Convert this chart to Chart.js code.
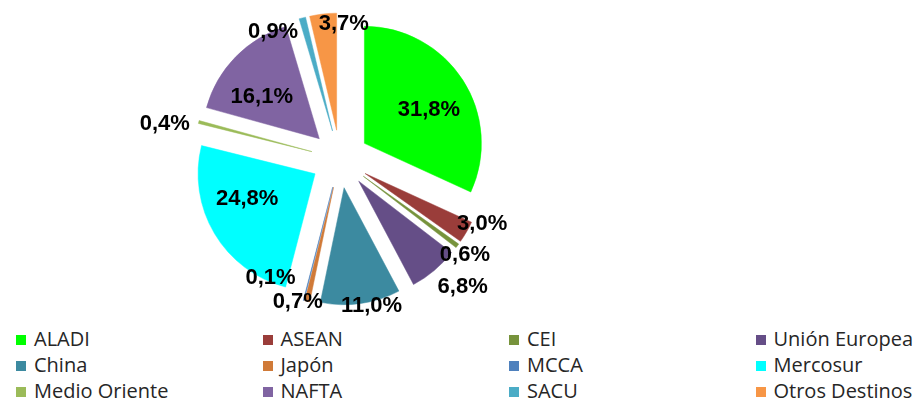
<!DOCTYPE html>
<html>
<head>
<meta charset="utf-8">
<script src="https://cdn.jsdelivr.net/npm/chart.js@4.4.1/dist/chart.umd.min.js"></script>
<style>
    html, body { margin: 0; padding: 0; background: #fff; }
    #wrap { position: relative; width: 913px; height: 403px; overflow: hidden; }
    #chartBox { position: absolute; left: 0; top: 0; width: 913px; height: 318px; }
    #leyenda {
        position: absolute; left: 16px; top: 326px;
        display: grid; grid-template-columns: repeat(4, 246.5px);
        font-family: "Open Sans", sans-serif; font-size: 20px; color: #262626;
    }
    #leyenda div { height: 26px; line-height: 26px; white-space: nowrap; }
    #leyenda span.caja {
        display: inline-block; width: 10px; height: 10px; margin-right: 8px;
        vertical-align: 1px;
    }
</style>
</head>
<body>
<div id="wrap">
    <div id="chartBox"><canvas id="graficoDestinos"></canvas></div>
    <div id="leyenda"></div>
</div>
<script>
// Destinos de exportacion (participacion %)
var destinos = ['ALADI', 'ASEAN', 'CEI', 'Unión Europea', 'China', 'Japón', 'MCCA',
    'Mercosur', 'Medio Oriente', 'NAFTA', 'SACU', 'Otros Destinos'];
var participacion = [31.8, 3.0, 0.6, 6.8, 11.0, 0.7, 0.1, 24.8, 0.4, 16.1, 0.9, 3.7];

// Colores de cada porcion
var colores = ['#00FF00', '#9A3D3A', '#77933C', '#654E87', '#3C8AA0', '#D07A38', '#4F81BD',
    '#00FFFF', '#9BBB59', '#8064A2', '#4BACC6', '#F79646'];

// Separacion de las porciones (px) y posicion de las etiquetas: [fraccion del radio, giro en grados]
var separacion = 29;
var posEtiqueta = [
    [0.62, 5.5], [1.09, -6.6], [1.10, 1.4], [1.27, -4.2], [1.04, -4.9], [1.03, 4.3],
    [0.94, 20.1], [0.62, 10.1], [1.28, -4], [0.61, -8.1], [0.99, -15.9], [0.91, 10.5]
];

// Separa cada porcion del centro sin achicar su angulo (el offset de Chart.js afina las porciones chicas)
var separarPorciones = {
    id: 'separarPorciones',
    afterUpdate: function(chart) {
        chart.getDatasetMeta(0).data.forEach(function(arc) {
            if (arc._separada) return;
            var drawOriginal = arc.draw;
            arc.draw = function(ctx) {
                var mid = (this.startAngle + this.endAngle) / 2;
                ctx.save();
                ctx.translate(Math.cos(mid) * separacion, Math.sin(mid) * separacion);
                drawOriginal.call(this, ctx);
                ctx.restore();
            };
            arc._separada = true;
        });
    }
};

// Etiquetas de porcentaje
var etiquetas = {
    id: 'etiquetas',
    afterDatasetsDraw: function(chart) {
        var ctx = chart.ctx;
        var meta = chart.getDatasetMeta(0);
        ctx.save();
        ctx.font = 'bold 22px "Liberation Sans", Arial, sans-serif';
        ctx.fillStyle = '#000';
        ctx.textAlign = 'center';
        ctx.textBaseline = 'middle';
        meta.data.forEach(function(arc, i) {
            var p = arc.getProps(['x', 'y', 'startAngle', 'endAngle', 'outerRadius'], true);
            var mid = (p.startAngle + p.endAngle) / 2;
            var cx = p.x + Math.cos(mid) * separacion;
            var cy = p.y + Math.sin(mid) * separacion;
            var ang = mid + posEtiqueta[i][1] * Math.PI / 180;
            var r = posEtiqueta[i][0] * p.outerRadius;
            var txt = participacion[i].toFixed(1).replace('.', ',') + '%';
            ctx.fillText(txt, cx + Math.cos(ang) * r, cy + Math.sin(ang) * r);
        });
        ctx.restore();
    }
};

var ctx1 = document.getElementById('graficoDestinos').getContext('2d');
new Chart(ctx1, {
    type: 'pie',
    data: {
        labels: destinos,
        datasets: [{
            data: participacion,
            backgroundColor: colores,
            borderColor: colores,
            borderWidth: 0.5,
            offset: 0,
            hoverOffset: 0
        }]
    },
    options: {
        responsive: true,
        maintainAspectRatio: false,
        animation: false,
        radius: 117,
        layout: { padding: { left: 0, right: 233, top: 0, bottom: 0 } },
        plugins: {
            legend: { display: false },
            tooltip: { enabled: false }
        },
        events: []
    },
    plugins: [separarPorciones, etiquetas]
});

// Leyenda en cuatro columnas
var leyenda = document.getElementById('leyenda');
destinos.forEach(function(nombre, i) {
    var item = document.createElement('div');
    var caja = document.createElement('span');
    caja.className = 'caja';
    caja.style.background = colores[i];
    item.appendChild(caja);
    item.appendChild(document.createTextNode(nombre));
    leyenda.appendChild(item);
});
</script>
</body>
</html>
